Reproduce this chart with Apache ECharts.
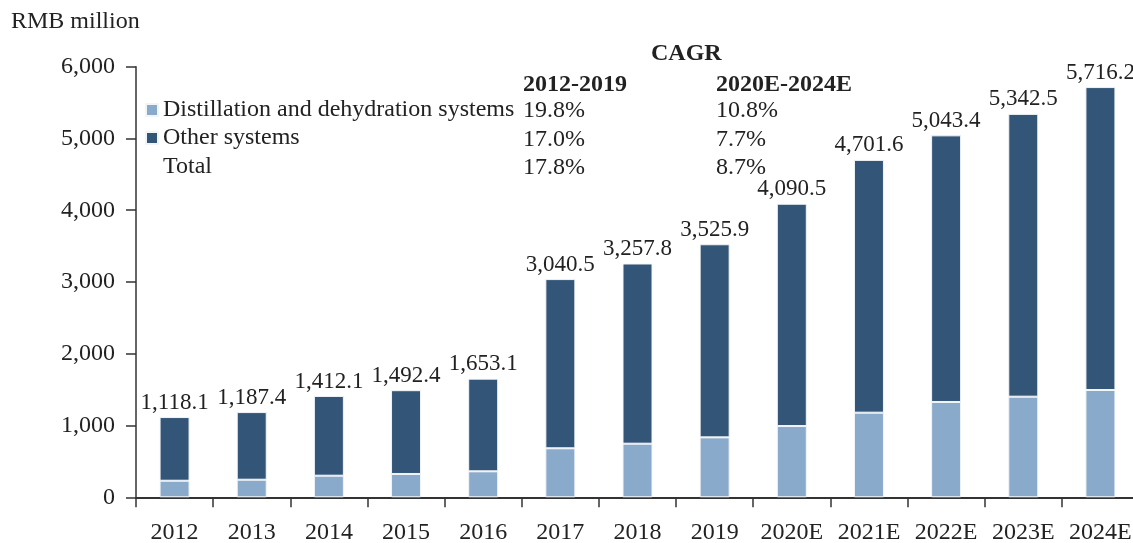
<!DOCTYPE html>
<html>
<head>
<meta charset="utf-8">
<script src="https://cdn.jsdelivr.net/npm/echarts@6/dist/echarts.min.js"></script>
<style>html,body{margin:0;padding:0;background:#fff;}#c{width:1133px;height:543px;}</style>
</head>
<body>
<div id="c"></div>
<script>
var categories = ['2012','2013','2014','2015','2016','2017','2018','2019','2020E','2021E','2022E','2023E','2024E'];
var totals = [1118.1,1187.4,1412.1,1492.4,1653.1,3040.5,3257.8,3525.9,4090.5,4701.6,5043.4,5342.5,5716.2];
var distillation = [231,245,301,325,362,683,747,835,993,1179,1328,1402,1495];
var other = [887.1,942.4,1111.1,1167.4,1291.1,2357.5,2510.8,2690.9,3097.5,3522.6,3715.4,3940.5,4221.2];
var yTicks = [0,1000,2000,3000,4000,5000,6000];
var cagrHeaders = ['2012-2019','2020E-2024E'];
var cagrDistillation = ['19.8%','10.8%'];
var cagrOther = ['17.0%','7.7%'];
var cagrTotal = ['17.8%','8.7%'];

var FONT = '"Liberation Serif","Times New Roman",serif';
var TXT = '#222';
function fmt(v){ return v.toLocaleString('en-US',{minimumFractionDigits:1,maximumFractionDigits:1}); }

var chart = echarts.init(document.getElementById('c'));
var t = function(x,y,text,opt){
  return {type:'text', left:x, top:y, style:Object.assign({text:text, font:'24px '+FONT, fill:TXT}, opt||{})};
};
chart.setOption({
  animation:false,
  grid:{left:136, right:-6, top:66.7, bottom:45.7, containLabel:false, outerBoundsMode:'none'},
  legend:{
    orient:'vertical', left:145, top:98, padding:0, itemWidth:12, itemHeight:12, itemGap:4,
    icon:'rect', textStyle:{fontFamily:FONT, fontSize:24, color:TXT},
    data:['Distillation and dehydration systems','Other systems']
  },
  xAxis:{
    type:'category', data:categories,
    axisLine:{lineStyle:{color:'#333', width:2}},
    axisTick:{show:true, length:10, lineStyle:{color:'#333', width:1.5}},
    axisLabel:{fontFamily:FONT, fontSize:24, color:TXT, margin:23, interval:0}
  },
  yAxis:{
    type:'value', min:yTicks[0], max:yTicks[yTicks.length-1], interval:1000,
    axisLine:{show:true, lineStyle:{color:'#333', width:1.5}},
    axisTick:{show:true, length:10, lineStyle:{color:'#333', width:1.5}},
    splitLine:{show:false},
    axisLabel:{fontFamily:FONT, fontSize:24, color:TXT, margin:21,
      formatter:function(v){return v.toLocaleString('en-US');}}
  },
  series:[
    {name:'Distillation and dehydration systems', type:'bar', stack:'a', barWidth:30,
      data:distillation, itemStyle:{color:'#8aaacb', borderColor:'#f2f5f8', borderWidth:1}},
    {name:'Other systems', type:'bar', stack:'a', barWidth:30,
      data:other, itemStyle:{color:'#335577', borderColor:'#f2f5f8', borderWidth:1},
      label:{show:true, position:'top', distance:3, fontFamily:FONT, fontSize:23, color:TXT,
        formatter:function(p){return fmt(totals[p.dataIndex]);}}}
  ],
  graphic:[
    t(11,10,'RMB million'),
    t(163,155,'Total'),
    t(651,42,'CAGR',{font:'bold 24px '+FONT}),
    t(523,73,cagrHeaders[0],{font:'bold 24px '+FONT}),
    t(716,73,cagrHeaders[1],{font:'bold 24px '+FONT}),
    t(523,99,cagrDistillation[0]), t(716,99,cagrDistillation[1]),
    t(523,128,cagrOther[0]), t(716,128,cagrOther[1]),
    t(523,156,cagrTotal[0]), t(716,156,cagrTotal[1])
  ]
});
</script>
</body>
</html>
